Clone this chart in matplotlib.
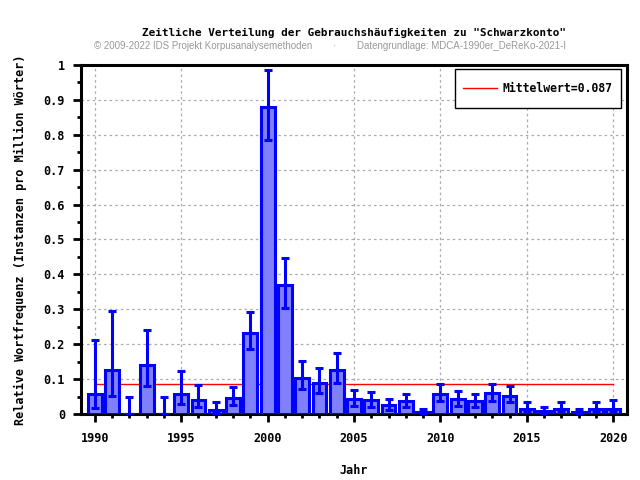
import matplotlib
matplotlib.use("Agg")
import matplotlib.pyplot as plt
from matplotlib.ticker import MultipleLocator, FuncFormatter
from matplotlib.patches import Rectangle

years = list(range(1990, 2021))
values = [0.058, 0.125, 0.0, 0.139, 0.0, 0.058, 0.041, 0.012, 0.047, 0.232,
          0.879, 0.371, 0.104, 0.090, 0.125, 0.042, 0.039, 0.025, 0.036, 0.005,
          0.057, 0.042, 0.036, 0.059, 0.051, 0.015, 0.008, 0.015, 0.005, 0.015,
          0.015]
err_upper = [0.213, 0.295, 0.050, 0.240, 0.050, 0.122, 0.083, 0.034, 0.078, 0.291,
             0.986, 0.448, 0.153, 0.133, 0.176, 0.070, 0.064, 0.044, 0.058, 0.015,
             0.087, 0.067, 0.058, 0.087, 0.081, 0.034, 0.021, 0.035, 0.015, 0.034,
             0.039]
err_lower = [0.017, 0.052, 0.0, 0.080, 0.0, 0.029, 0.021, 0.002, 0.026, 0.185,
             0.784, 0.305, 0.073, 0.061, 0.090, 0.024, 0.021, 0.012, 0.020, 0.0,
             0.038, 0.024, 0.020, 0.037, 0.033, 0.007, 0.002, 0.007, 0.0, 0.007,
             0.007]
mean_value = 0.087
title = 'Zeitliche Verteilung der Gebrauchshäufigkeiten zu "Schwarzkonto"'
subtitle_left = "© 2009-2022 IDS Projekt Korpusanalysemethoden"
subtitle_right = "Datengrundlage: MDCA-1990er_DeReKo-2021-I"

mono = "DejaVu Sans Mono"
fig = plt.figure(figsize=(6.4, 4.8), dpi=100)
ax = fig.add_axes([81/640, 1-414/480, (627-81)/640, (414-65)/480])

lo = [v - l for v, l in zip(values, err_lower)]
hi = [u - v for v, u in zip(values, err_upper)]
ax.bar(years, values, width=0.8, color="#8080ff", edgecolor="#0000ff", linewidth=2.2, zorder=3)
ax.errorbar(years, values, yerr=[lo, hi], fmt="none", ecolor="#0000ff",
            elinewidth=2.2, capsize=3, capthick=2.2, zorder=4)
ax.plot([years[0], years[-1]], [mean_value, mean_value], color="red", lw=1,
        zorder=2, label="Mittelwert=%.3f" % mean_value)

ax.set_xlim(1989.2, 2020.8)
ax.set_ylim(0, 1)
ax.xaxis.set_major_locator(MultipleLocator(5))
ax.xaxis.set_minor_locator(MultipleLocator(1))
ax.yaxis.set_major_locator(MultipleLocator(0.1))
ax.yaxis.set_minor_locator(MultipleLocator(0.05))
ax.yaxis.set_major_formatter(FuncFormatter(lambda v, p: "%g" % round(v, 2)))
ax.grid(True, which="major", color="#aaaaaa", linestyle=(0, (2, 2.5)), lw=0.9)
ax.set_axisbelow(True)
for s in ax.spines.values():
    s.set_linewidth(2.2)
ax.tick_params(which="major", length=6, width=2, direction="out")
ax.tick_params(which="minor", length=3, width=2, direction="out")
ax.tick_params(axis="x", which="major", pad=7)
ax.tick_params(axis="y", which="major", pad=5.5)
for lab in ax.get_xticklabels() + ax.get_yticklabels():
    lab.set_family(mono)
    lab.set_weight("bold")
    lab.set_fontsize(8.5)

ax.set_xlabel("Jahr", family=mono, weight="bold", fontsize=8.5, labelpad=14)
ax.set_ylabel("Relative Wortfrequenz (Instanzen pro Million Wörter)", family=mono,
              weight="bold", fontsize=8.5, labelpad=12)

# legend box (frame drawn separately for exact padding)
aw, ah = 627 - 81, 414 - 65
bx0, bx1, by0, by1 = 455, 621, 69, 108
ax.add_patch(Rectangle(((bx0 - 81) / aw, 1 - (by1 - 65) / ah), (bx1 - bx0) / aw,
                       (by1 - by0) / ah, transform=ax.transAxes, facecolor="white",
                       edgecolor="black", lw=1, zorder=9, clip_on=False))
leg = ax.legend(loc="center", bbox_to_anchor=(((bx0 + bx1) / 2 - 81) / aw,
                                              1 - ((by0 + by1) / 2 - 65) / ah),
                prop={"family": mono, "weight": "bold", "size": 8.3},
                frameon=False, handlelength=2.9, handletextpad=0.55,
                borderpad=0, borderaxespad=0)
leg.set_zorder(10)

fig.text(354/640, 1-33/480, title, family=mono, weight="bold", fontsize=7.9,
         ha="center", va="center")
fig.text(94/640, 1-46/480, subtitle_left, family="Liberation Sans", fontsize=7,
         color="#999999", ha="left", va="center")
fig.text(334/640, 1-46/480, "·", family="Liberation Sans", fontsize=7,
         color="#999999", ha="center", va="center")
fig.text(357/640, 1-46/480, subtitle_right, family="Liberation Sans", fontsize=7,
         color="#999999", ha="left", va="center")

fig.savefig("out.png", dpi=100)
